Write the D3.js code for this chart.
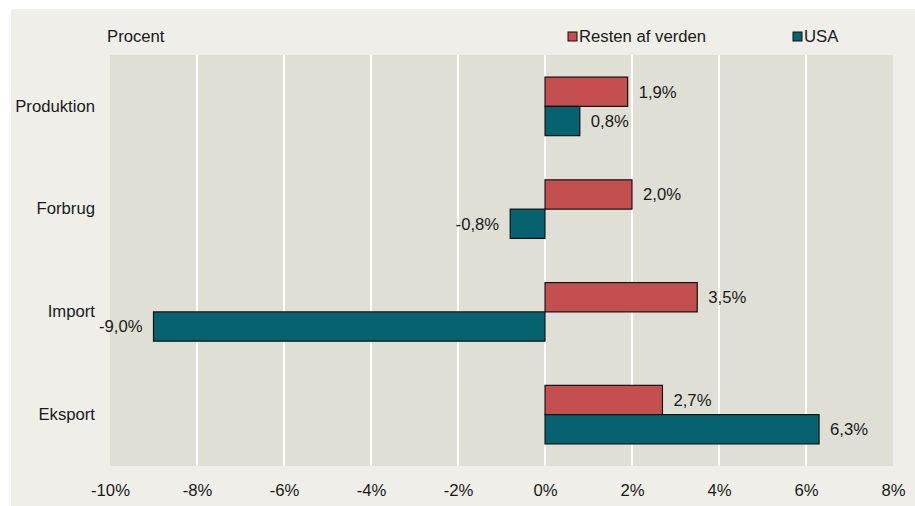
<!DOCTYPE html>
<html>
<head>
<meta charset="utf-8">
<script src="https://cdn.jsdelivr.net/npm/d3@7"></script>
<style>
  body { margin: 0; background: #ffffff; }
  text { font-family: "Liberation Sans", Arial, sans-serif; fill: #1a1a1a; }
</style>
</head>
<body>
<div id="chart"></div>
<script>
// data
var categories = ["Produktion", "Forbrug", "Import", "Eksport"];
var series = ["Resten af verden", "USA"];
var restenValues = [1.9, 2.0, 3.5, 2.7];
var usaValues = [0.8, -0.8, -9.0, 6.3];
var xTicks = [-10, -8, -6, -4, -2, 0, 2, 4, 6, 8];

var W = 915, H = 506;
var fs = "16.7px";
var margin = {top: 55, right: 22, bottom: 40, left: 110},
    width = 893 - margin.left,
    height = 466 - margin.top;

var svg = d3.select("#chart")
  .append("svg")
    .attr("width", W)
    .attr("height", H);

// outer panel
svg.append("rect")
  .attr("x", 11).attr("y", 9)
  .attr("width", W - 11).attr("height", H - 9)
  .attr("fill", "#efeee8");

var g = svg.append("g")
  .attr("transform", "translate(" + margin.left + "," + margin.top + ")");

var x = d3.scaleLinear()
  .domain([-10, 8])
  .range([0, width]);

var y = d3.scaleBand()
  .domain(categories)
  .range([0, height])
  .paddingInner(0.43)
  .paddingOuter(0.215);

var ySub = d3.scaleBand()
  .domain(series)
  .range([0, y.bandwidth()]);

var color = d3.scaleOrdinal()
  .domain(series)
  .range(["#c3504e", "#07626f"]);

// plot background
g.append("rect")
  .attr("width", width)
  .attr("height", height)
  .attr("fill", "#e0dfd5");

// vertical grid lines
g.selectAll(".grid")
  .data(xTicks.slice(1, -1))
  .enter()
  .append("line")
    .attr("x1", function(d) { return x(d); })
    .attr("x2", function(d) { return x(d); })
    .attr("y1", 0)
    .attr("y2", height)
    .attr("stroke", "#ffffff")
    .attr("stroke-width", 2);

// x axis labels
var xAxis = g.append("g")
  .attr("transform", "translate(0," + height + ")")
  .call(d3.axisBottom(x)
    .tickValues(xTicks)
    .tickSize(0)
    .tickPadding(18)
    .tickFormat(function(d) { return d + "%"; }));
xAxis.select(".domain").remove();
xAxis.selectAll("text")
  .style("font-size", fs)
  .style("font-family", "Liberation Sans, Arial, sans-serif")
  .attr("fill", "#1a1a1a");

// y axis labels
var yAxis = g.append("g")
  .call(d3.axisLeft(y).tickSize(0).tickPadding(15));
yAxis.select(".domain").remove();
yAxis.selectAll("text")
  .style("font-size", fs)
  .style("font-family", "Liberation Sans, Arial, sans-serif")
  .attr("fill", "#1a1a1a");

var rows = [];
categories.forEach(function(c, i) {
  rows.push({cat: c, s: series[0], v: restenValues[i]});
  rows.push({cat: c, s: series[1], v: usaValues[i]});
});

function fmt(v) {
  return v.toFixed(1).replace(".", ",") + "%";
}

g.selectAll(".bar")
  .data(rows)
  .enter()
  .append("rect")
    .attr("class", "bar")
    .attr("x", function(d) { return x(Math.min(0, d.v)); })
    .attr("y", function(d) { return y(d.cat) + ySub(d.s); })
    .attr("width", function(d) { return Math.abs(x(d.v) - x(0)); })
    .attr("height", ySub.bandwidth())
    .attr("fill", function(d) { return color(d.s); })
    .attr("stroke", "#111111")
    .attr("stroke-width", 1.2);

g.selectAll(".lbl")
  .data(rows)
  .enter()
  .append("text")
    .attr("class", "lbl")
    .attr("x", function(d) { return d.v >= 0 ? x(d.v) + 11 : x(d.v) - 11; })
    .attr("y", function(d) { return y(d.cat) + ySub(d.s) + ySub.bandwidth() / 2; })
    .attr("dy", "0.35em")
    .attr("text-anchor", function(d) { return d.v >= 0 ? "start" : "end"; })
    .style("font-size", fs)
    .text(function(d) { return fmt(d.v); });

// unit title
svg.append("text")
  .attr("x", 107)
  .attr("y", 42)
  .style("font-size", fs)
  .text("Procent");

// legend
var legendX = [568, 793];
series.forEach(function(s, i) {
  svg.append("rect")
    .attr("x", legendX[i]).attr("y", 32)
    .attr("width", 9).attr("height", 9)
    .attr("fill", color(s))
    .attr("stroke", "#111111")
    .attr("stroke-width", 1);
  svg.append("text")
    .attr("x", legendX[i] + 11)
    .attr("y", 42)
    .style("font-size", fs)
    .text(s);
});
</script>
</body>
</html>
